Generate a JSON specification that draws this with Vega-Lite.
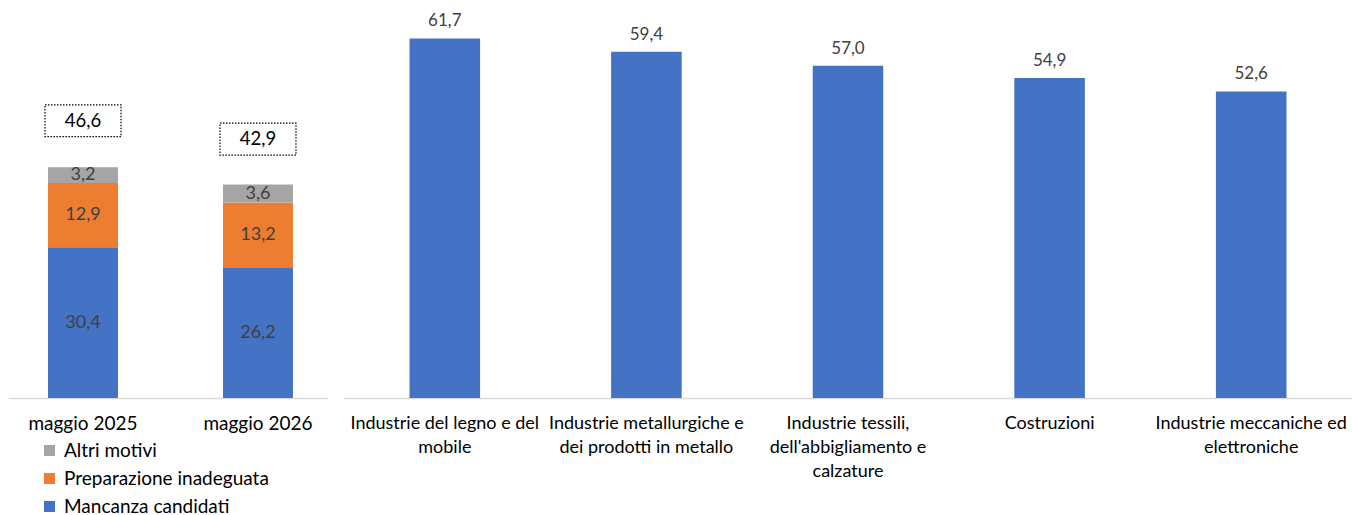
{
  "$schema": "https://vega.github.io/schema/vega-lite/v6.json",
  "padding": {"left": 9, "top": 0, "right": 0, "bottom": 0},
  "background": "white",
  "spacing": 17,
  "config": {
    "view": {"stroke": null},
    "font": "Lato",
    "axis": {"grid": false},
    "locale": {"number": {"decimal": ",", "thousands": ".", "grouping": [3], "currency": ["€", ""]}}
  },
  "datasets": {
    "motivi": [
      {"periodo": "maggio  2025", "motivo": "Mancanza candidati", "valore": 30.4, "ordine": 1},
      {"periodo": "maggio  2025", "motivo": "Preparazione inadeguata", "valore": 12.9, "ordine": 2},
      {"periodo": "maggio  2025", "motivo": "Altri motivi", "valore": 3.2, "ordine": 3},
      {"periodo": "maggio 2026", "motivo": "Mancanza candidati", "valore": 26.2, "ordine": 1},
      {"periodo": "maggio 2026", "motivo": "Preparazione inadeguata", "valore": 13.2, "ordine": 2},
      {"periodo": "maggio 2026", "motivo": "Altri motivi", "valore": 3.6, "ordine": 3}
    ],
    "totali": [
      {"periodo": "maggio  2025", "totale": 46.6},
      {"periodo": "maggio 2026", "totale": 42.9}
    ],
    "settori": [
      {"settore": "Industrie del legno e del mobile", "valore": 61.7},
      {"settore": "Industrie metallurgiche e dei prodotti in metallo", "valore": 59.4},
      {"settore": "Industrie tessili, dell'abbigliamento e calzature", "valore": 57.0},
      {"settore": "Costruzioni", "valore": 54.9},
      {"settore": "Industrie meccaniche ed elettroniche", "valore": 52.6}
    ]
  },
  "hconcat": [
    {
      "width": 318,
      "height": 398,
      "encoding": {
        "x": {
          "field": "periodo", "type": "nominal", "sort": null,
          "scale": {"paddingInner": 0.6, "paddingOuter": 0.2086, "align": 0.534},
          "axis": {"title": null, "labelAngle": 0, "ticks": false, "domainColor": "#d9d9d9", "domainWidth": 1.3, "labelFontSize": 19, "labelColor": "#000000", "labelPadding": 16, "labelLimit": 300}
        }
      },
      "layer": [
        {
          "data": {"name": "motivi"},
          "mark": {"type": "bar"},
          "encoding": {
            "y": {"field": "valore", "type": "quantitative", "stack": "zero", "scale": {"domain": [0, 80.2]}, "axis": null},
            "color": {
              "field": "motivo", "type": "nominal",
              "scale": {"domain": ["Altri motivi", "Preparazione inadeguata", "Mancanza candidati"], "range": ["#A5A5A5", "#ED7D31", "#4472C4"]},
              "legend": {"orient": "none", "legendX": 31, "legendY": 441, "direction": "vertical", "title": null, "symbolType": "square", "symbolSize": 121, "symbolStrokeWidth": 0, "labelFontSize": 19, "labelColor": "#000000", "rowPadding": 8, "labelOffset": 5, "labelLimit": 300}
            },
            "order": {"field": "ordine", "type": "quantitative"}
          }
        },
        {
          "data": {"name": "motivi"},
          "mark": {"type": "text", "fontSize": 18, "color": "#404040", "baseline": "middle"},
          "encoding": {
            "y": {"field": "valore", "type": "quantitative", "stack": "zero", "bandPosition": 0.5, "scale": {"domain": [0, 80.2]}, "axis": null},
            "detail": {"field": "motivo", "type": "nominal"},
            "order": {"field": "ordine", "type": "quantitative"},
            "text": {"field": "valore", "type": "quantitative", "format": ".1f"}
          }
        },
        {
          "data": {"name": "totali"},
          "mark": {"type": "point", "shape": "M-1,-0.42H1V0.42H-1Z", "size": 5776, "filled": true, "fill": "white", "stroke": "black", "strokeWidth": 1.2, "strokeDash": [1.5, 1.5], "opacity": 1, "fillOpacity": 1, "strokeOpacity": 1, "yOffset": -46},
          "encoding": {
            "y": {"field": "totale", "type": "quantitative", "scale": {"domain": [0, 80.2]}, "axis": null}
          }
        },
        {
          "data": {"name": "totali"},
          "mark": {"type": "text", "fontSize": 18.5, "color": "#000000", "baseline": "middle", "yOffset": -46},
          "encoding": {
            "y": {"field": "totale", "type": "quantitative", "scale": {"domain": [0, 80.2]}, "axis": null},
            "text": {"field": "totale", "type": "quantitative", "format": ".1f"}
          }
        }
      ]
    },
    {
      "width": 1008,
      "height": 398,
      "data": {"name": "settori"},
      "encoding": {
        "x": {
          "field": "settore", "type": "nominal", "sort": null,
          "scale": {"paddingInner": 0.65, "paddingOuter": 0.325},
          "axis": {
            "title": null, "labelAngle": 0, "ticks": false, "domainColor": "#d9d9d9", "domainWidth": 1.3,
            "labelFontSize": 18, "labelColor": "#000000", "labelPadding": 16, "labelLineHeight": 24, "labelLimit": 300, "labelOverlap": false,
            "labelExpr": "{\"Industrie del legno e del mobile\": [\"Industrie del legno e del\", \"mobile\"], \"Industrie metallurgiche e dei prodotti in metallo\": [\"Industrie metallurgiche e\", \"dei prodotti in metallo\"], \"Industrie tessili, dell'abbigliamento e calzature\": [\"Industrie tessili,\", \"dell'abbigliamento e\", \"calzature\"], \"Industrie meccaniche ed elettroniche\": [\"Industrie meccaniche ed\", \"elettroniche\"]}[datum.label] || datum.label"
          }
        },
        "y": {"field": "valore", "type": "quantitative", "scale": {"domain": [0, 68.3]}, "axis": null}
      },
      "layer": [
        {"mark": {"type": "bar", "color": "#4472C4"}},
        {
          "mark": {"type": "text", "fontSize": 17, "color": "#404040", "baseline": "alphabetic", "dy": -12},
          "encoding": {"text": {"field": "valore", "type": "quantitative", "format": ".1f"}}
        }
      ]
    }
  ],
  "resolve": {"scale": {"x": "independent", "y": "independent"}}
}
